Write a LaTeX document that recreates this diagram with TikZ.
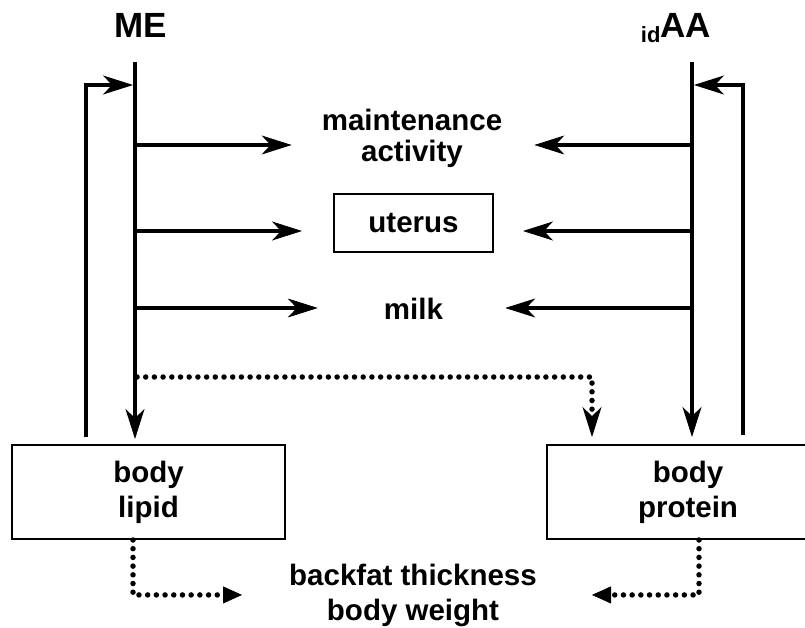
\documentclass[tikz,border=0pt]{standalone}
\usepackage{fontspec}
\setmainfont{Liberation Sans}
\usetikzlibrary{arrows.meta,calc}
\begin{document}
\begin{tikzpicture}[x=1pt,y=-1pt]
  \tikzstyle{txt}=[font=\fontsize{29.5}{35}\selectfont\bfseries,align=center,inner sep=0pt]
  \tikzstyle{head}=[font=\fontsize{35}{40}\selectfont\bfseries,inner sep=0pt,anchor=base]
  \tikzstyle{pool}=[txt,draw,line width=2pt,minimum height=94pt]
  \tikzstyle{flow}=[line width=4.5pt,-{Stealth[length=30pt,width=19pt,inset=9pt,line width=0.8pt]}]
  \tikzstyle{link}=[line width=5.5pt,line cap=round,dash pattern=on 0pt off 8.7pt]
  \clip (0,0) rectangle (805,628);

  \node[head] (me) at (141,38) {ME};
  \node[head] (aa) at (676,38) {{\fontsize{22}{22}\selectfont\raisebox{-5pt}{id}}AA};

  \node[txt,anchor=base] (maint) at (412,162) {maintenance\\[-4pt]activity};
  \node[txt,draw,line width=2pt,minimum width=159pt,minimum height=58pt] (uterus) at (413.5,223) {uterus};
  \node[txt,anchor=base] (milk) at (413.5,319) {milk};
  \node[pool,minimum width=273pt] (lipid) at (148.5,492) {body\\lipid};
  \node[pool,minimum width=282pt] (protein) at (688,492) {body\\protein};
  \node[txt,anchor=base] (gain) at (413,620) {backfat thickness\\body weight};

  \coordinate (me-top) at (135,62);
  \coordinate (aa-top) at (692,62);
  \coordinate (fb-l) at (86,85);
  \coordinate (fb-r) at (743,85);
  \foreach \i/\y in {1/145,2/231,3/308} {
    \coordinate (me-\i) at (135,\y);
    \coordinate (aa-\i) at (692,\y);
  }

  \draw[flow,shorten >=5pt] (me-top) -- (me-top |- lipid.north);
  \draw[flow,shorten >=7pt] (aa-top) -- (aa-top |- protein.north);
  \draw[flow] ($(fb-l |- lipid.north)+(0,-7)$) |- ($(me-top |- fb-l)+(-2,0)$);
  \draw[flow] ($(fb-r |- protein.north)+(0,-9)$) |- ($(aa-top |- fb-r)+(2,0)$);

  \foreach \i/\to/\gap in {1/maint/30pt,2/uterus/31pt,3/milk/66pt}
    { \draw[flow,shorten >=\gap] (me-\i) -- (me-\i -| \to.west); }
  \foreach \i/\to/\gap in {1/maint/32pt,2/uterus/29pt,3/milk/62pt}
    { \draw[flow,shorten >=\gap] (aa-\i) -- (aa-\i -| \to.east); }

  \coordinate (me-4) at (137,377);
  \draw[link,-{Stealth[length=30pt,width=19pt,inset=9pt,line width=0.8pt]},shorten >=7pt]
    (me-4) -| ($(protein.north)+(-96,0)$);
  \draw[link,-{Triangle[length=19pt,width=17pt,line width=0.8pt]},shorten >=47pt]
    ($(lipid.south)+(-15.5,0)$) |- (gain.west);
  \draw[link,-{Triangle[length=19pt,width=17pt,line width=0.8pt]},shorten >=55pt]
    ($(protein.south)+(11,0)$) |- (gain.east);
\end{tikzpicture}
\end{document}
